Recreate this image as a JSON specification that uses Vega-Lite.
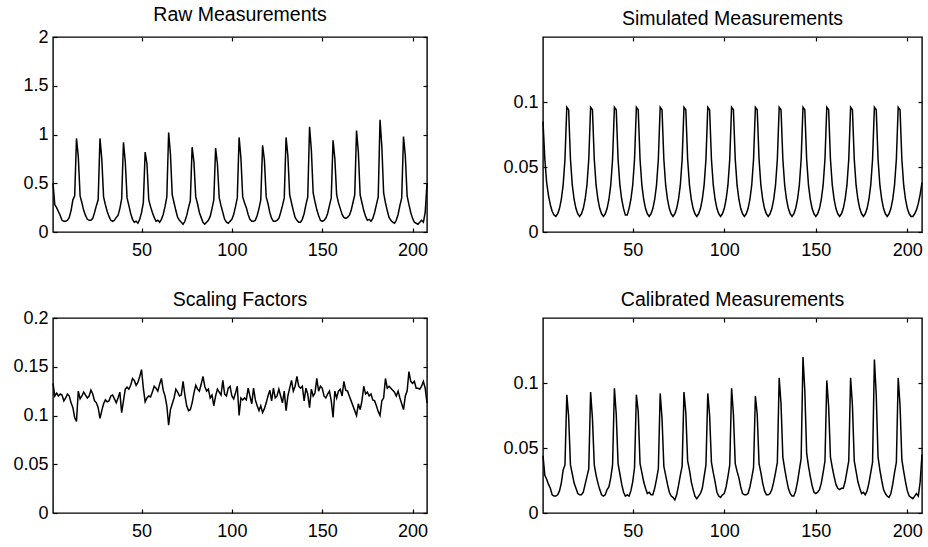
{
"$schema": "https://vega.github.io/schema/vega-lite/v6.json",
"padding": {"left": 12, "top": 3, "right": 0, "bottom": 0},
"config": {
  "font": "Liberation Sans",
  "view": {"stroke": "black", "strokeWidth": 1.4},
  "axis": {"grid": false, "domain": false, "title": null, "tickColor": "black", "tickSize": -4, "tickWidth": 1.2, "labelColor": "black", "labelFontSize": 18, "labelFont": "Liberation Sans"},
  "axisX": {"labelPadding": 13},
  "axisY": {"labelPadding": 9},
  "title": {"fontSize": 19.5, "fontWeight": "normal", "color": "black", "font": "Liberation Sans", "offset": 7},
  "line": {"color": "black", "strokeWidth": 1.5}
},
"data": {"values": [
{"i":1,"r":0.50,"s":0.085,"f":0.133,"c":0.044},
{"i":2,"r":0.28,"s":0.056,"f":0.12,"c":0.029},
{"i":3,"r":0.25,"s":0.038,"f":0.123,"c":0.026},
{"i":4,"r":0.21,"s":0.028,"f":0.12,"c":0.022},
{"i":5,"r":0.17,"s":0.021,"f":0.122,"c":0.019},
{"i":6,"r":0.12,"s":0.016,"f":0.121,"c":0.014},
{"i":7,"r":0.11,"s":0.013,"f":0.115,"c":0.013},
{"i":8,"r":0.11,"s":0.012,"f":0.118,"c":0.013},
{"i":9,"r":0.12,"s":0.014,"f":0.122,"c":0.014},
{"i":10,"r":0.15,"s":0.018,"f":0.12,"c":0.017},
{"i":11,"r":0.22,"s":0.025,"f":0.113,"c":0.023},
{"i":12,"r":0.33,"s":0.036,"f":0.108,"c":0.033},
{"i":13,"r":0.37,"s":0.056,"f":0.098,"c":0.037},
{"i":14,"r":0.96,"s":0.096,"f":0.094,"c":0.091},
{"i":15,"r":0.77,"s":0.094,"f":0.125,"c":0.074},
{"i":16,"r":0.37,"s":0.056,"f":0.117,"c":0.037},
{"i":17,"r":0.30,"s":0.036,"f":0.12,"c":0.030},
{"i":18,"r":0.22,"s":0.025,"f":0.124,"c":0.023},
{"i":19,"r":0.17,"s":0.018,"f":0.121,"c":0.019},
{"i":20,"r":0.13,"s":0.014,"f":0.118,"c":0.015},
{"i":21,"r":0.12,"s":0.012,"f":0.12,"c":0.014},
{"i":22,"r":0.12,"s":0.014,"f":0.126,"c":0.014},
{"i":23,"r":0.14,"s":0.018,"f":0.122,"c":0.016},
{"i":24,"r":0.20,"s":0.025,"f":0.115,"c":0.022},
{"i":25,"r":0.27,"s":0.036,"f":0.113,"c":0.028},
{"i":26,"r":0.33,"s":0.056,"f":0.108,"c":0.034},
{"i":27,"r":0.96,"s":0.096,"f":0.097,"c":0.093},
{"i":28,"r":0.75,"s":0.094,"f":0.105,"c":0.073},
{"i":29,"r":0.36,"s":0.056,"f":0.112,"c":0.037},
{"i":30,"r":0.28,"s":0.036,"f":0.116,"c":0.029},
{"i":31,"r":0.21,"s":0.025,"f":0.114,"c":0.023},
{"i":32,"r":0.16,"s":0.018,"f":0.115,"c":0.018},
{"i":33,"r":0.12,"s":0.014,"f":0.12,"c":0.014},
{"i":34,"r":0.11,"s":0.012,"f":0.121,"c":0.013},
{"i":35,"r":0.12,"s":0.014,"f":0.117,"c":0.014},
{"i":36,"r":0.15,"s":0.018,"f":0.113,"c":0.018},
{"i":37,"r":0.17,"s":0.025,"f":0.118,"c":0.020},
{"i":38,"r":0.24,"s":0.036,"f":0.124,"c":0.027},
{"i":39,"r":0.34,"s":0.056,"f":0.103,"c":0.037},
{"i":40,"r":0.92,"s":0.096,"f":0.115,"c":0.096},
{"i":41,"r":0.72,"s":0.094,"f":0.127,"c":0.076},
{"i":42,"r":0.35,"s":0.056,"f":0.129,"c":0.038},
{"i":43,"r":0.27,"s":0.036,"f":0.127,"c":0.030},
{"i":44,"r":0.19,"s":0.025,"f":0.131,"c":0.022},
{"i":45,"r":0.13,"s":0.018,"f":0.138,"c":0.016},
{"i":46,"r":0.10,"s":0.013,"f":0.136,"c":0.013},
{"i":47,"r":0.11,"s":0.013,"f":0.131,"c":0.014},
{"i":48,"r":0.09,"s":0.018,"f":0.134,"c":0.013},
{"i":49,"r":0.13,"s":0.025,"f":0.14,"c":0.017},
{"i":50,"r":0.20,"s":0.036,"f":0.147,"c":0.024},
{"i":51,"r":0.30,"s":0.056,"f":0.128,"c":0.035},
{"i":52,"r":0.82,"s":0.096,"f":0.114,"c":0.091},
{"i":53,"r":0.70,"s":0.094,"f":0.118,"c":0.078},
{"i":54,"r":0.33,"s":0.056,"f":0.12,"c":0.038},
{"i":55,"r":0.26,"s":0.036,"f":0.119,"c":0.031},
{"i":56,"r":0.20,"s":0.025,"f":0.124,"c":0.024},
{"i":57,"r":0.15,"s":0.018,"f":0.13,"c":0.019},
{"i":58,"r":0.11,"s":0.014,"f":0.128,"c":0.015},
{"i":59,"r":0.12,"s":0.012,"f":0.125,"c":0.016},
{"i":60,"r":0.10,"s":0.014,"f":0.132,"c":0.014},
{"i":61,"r":0.13,"s":0.018,"f":0.138,"c":0.014},
{"i":62,"r":0.18,"s":0.025,"f":0.126,"c":0.019},
{"i":63,"r":0.26,"s":0.036,"f":0.12,"c":0.026},
{"i":64,"r":0.36,"s":0.056,"f":0.11,"c":0.034},
{"i":65,"r":1.02,"s":0.096,"f":0.09,"c":0.092},
{"i":66,"r":0.80,"s":0.094,"f":0.106,"c":0.073},
{"i":67,"r":0.38,"s":0.056,"f":0.112,"c":0.036},
{"i":68,"r":0.30,"s":0.036,"f":0.118,"c":0.029},
{"i":69,"r":0.22,"s":0.025,"f":0.127,"c":0.022},
{"i":70,"r":0.15,"s":0.018,"f":0.124,"c":0.016},
{"i":71,"r":0.12,"s":0.014,"f":0.12,"c":0.013},
{"i":72,"r":0.10,"s":0.012,"f":0.121,"c":0.012},
{"i":73,"r":0.08,"s":0.014,"f":0.135,"c":0.010},
{"i":74,"r":0.11,"s":0.018,"f":0.121,"c":0.014},
{"i":75,"r":0.17,"s":0.025,"f":0.11,"c":0.021},
{"i":76,"r":0.25,"s":0.036,"f":0.105,"c":0.029},
{"i":77,"r":0.32,"s":0.056,"f":0.106,"c":0.036},
{"i":78,"r":0.87,"s":0.096,"f":0.113,"c":0.093},
{"i":79,"r":0.72,"s":0.094,"f":0.123,"c":0.077},
{"i":80,"r":0.36,"s":0.056,"f":0.131,"c":0.040},
{"i":81,"r":0.29,"s":0.036,"f":0.127,"c":0.033},
{"i":82,"r":0.20,"s":0.025,"f":0.125,"c":0.024},
{"i":83,"r":0.15,"s":0.018,"f":0.132,"c":0.018},
{"i":84,"r":0.10,"s":0.014,"f":0.14,"c":0.013},
{"i":85,"r":0.08,"s":0.012,"f":0.13,"c":0.011},
{"i":86,"r":0.10,"s":0.014,"f":0.125,"c":0.013},
{"i":87,"r":0.12,"s":0.018,"f":0.127,"c":0.015},
{"i":88,"r":0.16,"s":0.025,"f":0.118,"c":0.019},
{"i":89,"r":0.24,"s":0.036,"f":0.121,"c":0.028},
{"i":90,"r":0.33,"s":0.056,"f":0.11,"c":0.037},
{"i":91,"r":0.86,"s":0.096,"f":0.12,"c":0.092},
{"i":92,"r":0.70,"s":0.094,"f":0.127,"c":0.075},
{"i":93,"r":0.35,"s":0.056,"f":0.124,"c":0.039},
{"i":94,"r":0.27,"s":0.036,"f":0.121,"c":0.031},
{"i":95,"r":0.20,"s":0.025,"f":0.136,"c":0.024},
{"i":96,"r":0.13,"s":0.018,"f":0.122,"c":0.016},
{"i":97,"r":0.10,"s":0.014,"f":0.12,"c":0.013},
{"i":98,"r":0.09,"s":0.012,"f":0.128,"c":0.012},
{"i":99,"r":0.11,"s":0.014,"f":0.13,"c":0.014},
{"i":100,"r":0.13,"s":0.018,"f":0.12,"c":0.015},
{"i":101,"r":0.18,"s":0.025,"f":0.117,"c":0.020},
{"i":102,"r":0.26,"s":0.036,"f":0.123,"c":0.028},
{"i":103,"r":0.35,"s":0.056,"f":0.13,"c":0.037},
{"i":104,"r":0.97,"s":0.096,"f":0.1,"c":0.096},
{"i":105,"r":0.76,"s":0.094,"f":0.118,"c":0.076},
{"i":106,"r":0.36,"s":0.056,"f":0.116,"c":0.038},
{"i":107,"r":0.30,"s":0.036,"f":0.118,"c":0.032},
{"i":108,"r":0.25,"s":0.025,"f":0.116,"c":0.027},
{"i":109,"r":0.18,"s":0.018,"f":0.128,"c":0.020},
{"i":110,"r":0.13,"s":0.014,"f":0.12,"c":0.015},
{"i":111,"r":0.11,"s":0.012,"f":0.112,"c":0.014},
{"i":112,"r":0.11,"s":0.014,"f":0.128,"c":0.014},
{"i":113,"r":0.12,"s":0.018,"f":0.116,"c":0.015},
{"i":114,"r":0.17,"s":0.025,"f":0.11,"c":0.020},
{"i":115,"r":0.24,"s":0.036,"f":0.105,"c":0.027},
{"i":116,"r":0.33,"s":0.056,"f":0.11,"c":0.035},
{"i":117,"r":0.89,"s":0.096,"f":0.103,"c":0.090},
{"i":118,"r":0.74,"s":0.094,"f":0.107,"c":0.076},
{"i":119,"r":0.36,"s":0.056,"f":0.113,"c":0.038},
{"i":120,"r":0.29,"s":0.036,"f":0.12,"c":0.031},
{"i":121,"r":0.20,"s":0.025,"f":0.126,"c":0.023},
{"i":122,"r":0.14,"s":0.018,"f":0.115,"c":0.017},
{"i":123,"r":0.11,"s":0.014,"f":0.128,"c":0.014},
{"i":124,"r":0.11,"s":0.012,"f":0.118,"c":0.014},
{"i":125,"r":0.12,"s":0.014,"f":0.12,"c":0.015},
{"i":126,"r":0.14,"s":0.018,"f":0.127,"c":0.018},
{"i":127,"r":0.20,"s":0.025,"f":0.12,"c":0.024},
{"i":128,"r":0.27,"s":0.036,"f":0.113,"c":0.031},
{"i":129,"r":0.35,"s":0.056,"f":0.125,"c":0.039},
{"i":130,"r":0.97,"s":0.096,"f":0.105,"c":0.104},
{"i":131,"r":0.78,"s":0.094,"f":0.12,"c":0.084},
{"i":132,"r":0.38,"s":0.056,"f":0.128,"c":0.043},
{"i":133,"r":0.30,"s":0.036,"f":0.136,"c":0.034},
{"i":134,"r":0.22,"s":0.025,"f":0.125,"c":0.026},
{"i":135,"r":0.15,"s":0.018,"f":0.13,"c":0.019},
{"i":136,"r":0.12,"s":0.014,"f":0.14,"c":0.015},
{"i":137,"r":0.10,"s":0.012,"f":0.13,"c":0.013},
{"i":138,"r":0.10,"s":0.014,"f":0.128,"c":0.013},
{"i":139,"r":0.13,"s":0.018,"f":0.13,"c":0.017},
{"i":140,"r":0.19,"s":0.025,"f":0.115,"c":0.024},
{"i":141,"r":0.28,"s":0.036,"f":0.128,"c":0.033},
{"i":142,"r":0.36,"s":0.056,"f":0.122,"c":0.042},
{"i":143,"r":1.08,"s":0.096,"f":0.108,"c":0.120},
{"i":144,"r":0.84,"s":0.094,"f":0.127,"c":0.094},
{"i":145,"r":0.40,"s":0.056,"f":0.12,"c":0.046},
{"i":146,"r":0.31,"s":0.036,"f":0.123,"c":0.036},
{"i":147,"r":0.23,"s":0.025,"f":0.138,"c":0.028},
{"i":148,"r":0.17,"s":0.018,"f":0.125,"c":0.021},
{"i":149,"r":0.12,"s":0.014,"f":0.13,"c":0.016},
{"i":150,"r":0.11,"s":0.012,"f":0.128,"c":0.015},
{"i":151,"r":0.12,"s":0.014,"f":0.12,"c":0.016},
{"i":152,"r":0.14,"s":0.018,"f":0.118,"c":0.018},
{"i":153,"r":0.19,"s":0.025,"f":0.122,"c":0.023},
{"i":154,"r":0.27,"s":0.036,"f":0.125,"c":0.031},
{"i":155,"r":0.35,"s":0.056,"f":0.115,"c":0.040},
{"i":156,"r":0.94,"s":0.096,"f":0.098,"c":0.102},
{"i":157,"r":0.75,"s":0.094,"f":0.125,"c":0.082},
{"i":158,"r":0.38,"s":0.056,"f":0.118,"c":0.043},
{"i":159,"r":0.30,"s":0.036,"f":0.125,"c":0.035},
{"i":160,"r":0.24,"s":0.025,"f":0.127,"c":0.028},
{"i":161,"r":0.18,"s":0.018,"f":0.12,"c":0.022},
{"i":162,"r":0.15,"s":0.014,"f":0.135,"c":0.019},
{"i":163,"r":0.14,"s":0.012,"f":0.126,"c":0.018},
{"i":164,"r":0.15,"s":0.014,"f":0.125,"c":0.019},
{"i":165,"r":0.17,"s":0.018,"f":0.12,"c":0.019},
{"i":166,"r":0.22,"s":0.025,"f":0.115,"c":0.024},
{"i":167,"r":0.30,"s":0.036,"f":0.11,"c":0.032},
{"i":168,"r":0.38,"s":0.056,"f":0.105,"c":0.040},
{"i":169,"r":1.04,"s":0.096,"f":0.1,"c":0.104},
{"i":170,"r":0.82,"s":0.094,"f":0.112,"c":0.083},
{"i":171,"r":0.38,"s":0.056,"f":0.106,"c":0.040},
{"i":172,"r":0.30,"s":0.036,"f":0.115,"c":0.032},
{"i":173,"r":0.22,"s":0.025,"f":0.13,"c":0.024},
{"i":174,"r":0.16,"s":0.018,"f":0.122,"c":0.019},
{"i":175,"r":0.12,"s":0.014,"f":0.124,"c":0.015},
{"i":176,"r":0.13,"s":0.012,"f":0.12,"c":0.016},
{"i":177,"r":0.11,"s":0.014,"f":0.122,"c":0.014},
{"i":178,"r":0.14,"s":0.018,"f":0.116,"c":0.017},
{"i":179,"r":0.20,"s":0.025,"f":0.115,"c":0.023},
{"i":180,"r":0.28,"s":0.036,"f":0.11,"c":0.031},
{"i":181,"r":0.36,"s":0.056,"f":0.104,"c":0.039},
{"i":182,"r":1.15,"s":0.096,"f":0.1,"c":0.118},
{"i":183,"r":0.88,"s":0.094,"f":0.115,"c":0.091},
{"i":184,"r":0.40,"s":0.056,"f":0.118,"c":0.043},
{"i":185,"r":0.30,"s":0.036,"f":0.138,"c":0.033},
{"i":186,"r":0.22,"s":0.025,"f":0.128,"c":0.025},
{"i":187,"r":0.15,"s":0.018,"f":0.13,"c":0.018},
{"i":188,"r":0.12,"s":0.014,"f":0.128,"c":0.015},
{"i":189,"r":0.10,"s":0.012,"f":0.126,"c":0.013},
{"i":190,"r":0.09,"s":0.014,"f":0.124,"c":0.012},
{"i":191,"r":0.12,"s":0.018,"f":0.12,"c":0.015},
{"i":192,"r":0.18,"s":0.025,"f":0.125,"c":0.022},
{"i":193,"r":0.27,"s":0.036,"f":0.118,"c":0.031},
{"i":194,"r":0.35,"s":0.056,"f":0.112,"c":0.039},
{"i":195,"r":0.98,"s":0.096,"f":0.106,"c":0.104},
{"i":196,"r":0.78,"s":0.094,"f":0.12,"c":0.083},
{"i":197,"r":0.37,"s":0.056,"f":0.125,"c":0.041},
{"i":198,"r":0.28,"s":0.036,"f":0.145,"c":0.032},
{"i":199,"r":0.20,"s":0.025,"f":0.135,"c":0.024},
{"i":200,"r":0.14,"s":0.018,"f":0.133,"c":0.017},
{"i":201,"r":0.10,"s":0.014,"f":0.135,"c":0.013},
{"i":202,"r":0.09,"s":0.012,"f":0.128,"c":0.012},
{"i":203,"r":0.08,"s":0.012,"f":0.128,"c":0.011},
{"i":204,"r":0.10,"s":0.014,"f":0.127,"c":0.013},
{"i":205,"r":0.12,"s":0.017,"f":0.13,"c":0.015},
{"i":206,"r":0.10,"s":0.022,"f":0.135,"c":0.013},
{"i":207,"r":0.20,"s":0.029,"f":0.128,"c":0.024},
{"i":208,"r":0.50,"s":0.038,"f":0.113,"c":0.045}
]},
"bounds": "flush",
"columns": 2,
"spacing": {"row": 86, "column": 116},
"concat": [
  {"width": 374, "height": 195, "title": {"text": "Raw Measurements", "offset": 3},
   "layer": [
    {"mark": {"type": "line"}, "encoding": {
      "x": {"field": "i", "type": "quantitative", "scale": {"domain": [1, 208], "nice": false, "zero": false}, "axis": {"values": [50, 100, 150, 200]}},
      "y": {"field": "r", "type": "quantitative", "scale": {"domain": [0, 2], "nice": false}, "axis": {"values": [0, 0.5, 1, 1.5, 2], "labelExpr": "'' + datum.value"}}}},
    {"mark": {"type": "line", "opacity": 0}, "encoding": {
      "x": {"field": "i", "type": "quantitative", "axis": {"orient": "top", "labels": false, "values": [50, 100, 150, 200]}},
      "y": {"field": "r", "type": "quantitative", "axis": {"orient": "right", "labels": false, "values": [0, 0.5, 1, 1.5, 2]}}}}
   ],
   "resolve": {"axis": {"x": "independent", "y": "independent"}}},
  {"width": 379, "height": 195, "title": {"text": "Simulated Measurements", "offset": 7},
   "layer": [
    {"mark": {"type": "line"}, "encoding": {
      "x": {"field": "i", "type": "quantitative", "scale": {"domain": [1, 208], "nice": false, "zero": false}, "axis": {"values": [50, 100, 150, 200]}},
      "y": {"field": "s", "type": "quantitative", "scale": {"domain": [0, 0.15], "nice": false}, "axis": {"values": [0, 0.05, 0.1], "labelExpr": "'' + datum.value"}}}},
    {"mark": {"type": "line", "opacity": 0}, "encoding": {
      "x": {"field": "i", "type": "quantitative", "axis": {"orient": "top", "labels": false, "values": [50, 100, 150, 200]}},
      "y": {"field": "s", "type": "quantitative", "axis": {"orient": "right", "labels": false, "values": [0, 0.05, 0.1]}}}}
   ],
   "resolve": {"axis": {"x": "independent", "y": "independent"}}},
  {"width": 374, "height": 195, "title": {"text": "Scaling Factors", "offset": -1},
   "layer": [
    {"mark": {"type": "line"}, "encoding": {
      "x": {"field": "i", "type": "quantitative", "scale": {"domain": [1, 208], "nice": false, "zero": false}, "axis": {"values": [50, 100, 150, 200]}},
      "y": {"field": "f", "type": "quantitative", "scale": {"domain": [0, 0.2], "nice": false}, "axis": {"values": [0, 0.05, 0.1, 0.15, 0.2], "labelExpr": "'' + datum.value"}}}},
    {"mark": {"type": "line", "opacity": 0}, "encoding": {
      "x": {"field": "i", "type": "quantitative", "axis": {"orient": "top", "labels": false, "values": [50, 100, 150, 200]}},
      "y": {"field": "f", "type": "quantitative", "axis": {"orient": "right", "labels": false, "values": [0, 0.05, 0.1, 0.15, 0.2]}}}}
   ],
   "resolve": {"axis": {"x": "independent", "y": "independent"}}},
  {"width": 379, "height": 195, "title": {"text": "Calibrated Measurements", "offset": 7},
   "layer": [
    {"mark": {"type": "line"}, "encoding": {
      "x": {"field": "i", "type": "quantitative", "scale": {"domain": [1, 208], "nice": false, "zero": false}, "axis": {"values": [50, 100, 150, 200]}},
      "y": {"field": "c", "type": "quantitative", "scale": {"domain": [0, 0.15], "nice": false}, "axis": {"values": [0, 0.05, 0.1], "labelExpr": "'' + datum.value"}}}},
    {"mark": {"type": "line", "opacity": 0}, "encoding": {
      "x": {"field": "i", "type": "quantitative", "axis": {"orient": "top", "labels": false, "values": [50, 100, 150, 200]}},
      "y": {"field": "c", "type": "quantitative", "axis": {"orient": "right", "labels": false, "values": [0, 0.05, 0.1]}}}}
   ],
   "resolve": {"axis": {"x": "independent", "y": "independent"}}}
]
}
